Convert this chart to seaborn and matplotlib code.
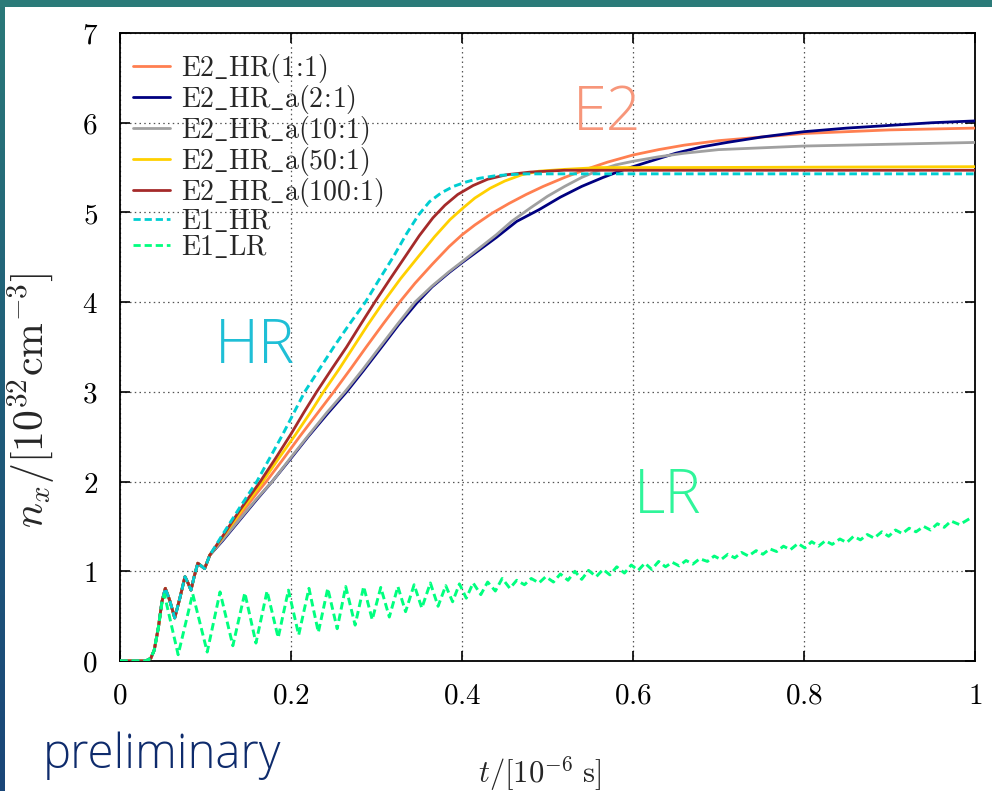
import numpy as np
import pandas as pd
import matplotlib
matplotlib.use("Agg")
import matplotlib.pyplot as plt
import seaborn as sns
from matplotlib.patches import Rectangle
from matplotlib.colors import LinearSegmentedColormap
from matplotlib.ticker import FixedLocator, FixedFormatter

# ---------------- data ----------------
# shared start-up transient of all high-resolution runs
onset_t = [0.0, 0.030, 0.036, 0.040, 0.045, 0.049, 0.053, 0.058, 0.064, 0.070,
           0.076, 0.080, 0.083, 0.087, 0.091, 0.099, 0.105]
onset_n = [0.0, 0.0, 0.03, 0.12, 0.38, 0.66, 0.81, 0.68, 0.48, 0.70,
           0.94, 0.86, 0.79, 0.95, 1.09, 1.03, 1.18]

e2_11_t = [0.12, 0.14, 0.16, 0.171, 0.19, 0.21, 0.23, 0.25, 0.27, 0.288,
           0.308, 0.327, 0.345, 0.365, 0.385, 0.400, 0.415, 0.435, 0.455, 0.475,
           0.495, 0.52, 0.545, 0.57, 0.60, 0.63, 0.66, 0.70, 0.75, 0.80,
           0.85, 0.90, 0.95, 1.00]
e2_11_n = [1.36, 1.62, 1.87, 2.00, 2.24, 2.50, 2.75, 3.00, 3.26, 3.50,
           3.76, 4.00, 4.21, 4.42, 4.62, 4.75, 4.86, 4.99, 5.10, 5.20,
           5.29, 5.39, 5.48, 5.56, 5.64, 5.70, 5.75, 5.80, 5.84, 5.88,
           5.90, 5.92, 5.93, 5.94]

e2_21_t = [0.12, 0.14, 0.16, 0.178, 0.20, 0.22, 0.243, 0.265, 0.285, 0.306,
           0.326, 0.347, 0.365, 0.385, 0.400, 0.42, 0.44, 0.464, 0.49, 0.515,
           0.54, 0.565, 0.59, 0.62, 0.65, 0.68, 0.71, 0.75, 0.80, 0.85,
           0.90, 0.95, 1.00]
e2_21_n = [1.34, 1.57, 1.80, 2.00, 2.26, 2.50, 2.76, 3.00, 3.24, 3.50,
           3.75, 3.99, 4.17, 4.33, 4.44, 4.58, 4.72, 4.90, 5.03, 5.17,
           5.29, 5.39, 5.48, 5.57, 5.66, 5.73, 5.78, 5.84, 5.90, 5.94,
           5.97, 6.00, 6.02]

e2_101_t = [0.12, 0.14, 0.16, 0.178, 0.20, 0.22, 0.242, 0.263, 0.284, 0.304,
            0.325, 0.345, 0.365, 0.385, 0.400, 0.42, 0.44, 0.458, 0.48, 0.50,
            0.52, 0.54, 0.56, 0.58, 0.60, 0.63, 0.66, 0.70, 0.75, 0.80,
            0.90, 1.00]
e2_101_n = [1.35, 1.58, 1.81, 2.00, 2.27, 2.51, 2.77, 3.00, 3.25, 3.50,
            3.76, 4.00, 4.18, 4.34, 4.45, 4.60, 4.75, 4.90, 5.05, 5.18,
            5.29, 5.39, 5.47, 5.53, 5.57, 5.62, 5.66, 5.70, 5.72, 5.74,
            5.76, 5.78]

e2_501_t = [0.12, 0.14, 0.167, 0.185, 0.205, 0.222, 0.238, 0.256, 0.273, 0.29,
            0.308, 0.328, 0.350, 0.368, 0.386, 0.400, 0.415, 0.433, 0.45, 0.47,
            0.49, 0.52, 0.56, 0.65, 1.00]
e2_501_n = [1.38, 1.65, 2.00, 2.25, 2.52, 2.76, 3.00, 3.25, 3.50, 3.75,
            4.00, 4.26, 4.52, 4.73, 4.92, 5.04, 5.16, 5.27, 5.35, 5.42,
            5.46, 5.48, 5.50, 5.50, 5.51]

e2_1001_t = [0.12, 0.14, 0.164, 0.182, 0.200, 0.215, 0.230, 0.248, 0.265, 0.282,
             0.298, 0.316, 0.333, 0.350, 0.366, 0.380, 0.395, 0.413, 0.430, 0.452,
             0.48, 0.52, 1.00]
e2_1001_n = [1.39, 1.68, 2.00, 2.26, 2.53, 2.77, 3.00, 3.26, 3.50, 3.76,
             4.00, 4.26, 4.50, 4.74, 4.94, 5.08, 5.20, 5.30, 5.37, 5.42,
             5.45, 5.47, 5.47]

e1_hr_t = [0.12, 0.14, 0.160, 0.175, 0.190, 0.203, 0.216, 0.233, 0.250, 0.268,
           0.287, 0.303, 0.320, 0.335, 0.349, 0.362, 0.376, 0.390, 0.405, 0.420,
           0.44, 0.47, 1.00]
e1_hr_n = [1.41, 1.71, 2.00, 2.26, 2.52, 2.76, 3.00, 3.25, 3.50, 3.75,
           4.00, 4.25, 4.51, 4.76, 4.97, 5.12, 5.22, 5.29, 5.34, 5.38,
           5.41, 5.43, 5.43]

# low-resolution run: start-up, then oscillation maxima and minima
lr_onset_t = [0.0, 0.030, 0.036, 0.040, 0.045, 0.049]
lr_onset_n = [0.0, 0.0, 0.03, 0.12, 0.38, 0.64]

lr_peak_t = [0.052, 0.085, 0.117, 0.146, 0.172, 0.197, 0.221, 0.243, 0.264, 0.285,
             0.305, 0.325, 0.344, 0.363, 0.381, 0.397, 0.413, 0.430, 0.447, 0.464,
             0.481, 0.498, 0.515, 0.532, 0.548, 0.565, 0.581, 0.598, 0.614, 0.630,
             0.646, 0.662, 0.678, 0.695, 0.711, 0.727, 0.744, 0.760, 0.776, 0.793,
             0.809, 0.825, 0.842, 0.858, 0.874, 0.891, 0.907, 0.923, 0.940, 0.956,
             0.972, 0.996]
lr_peak_n = [0.74, 0.75, 0.77, 0.76, 0.78, 0.79, 0.81, 0.81, 0.83, 0.83,
             0.82, 0.83, 0.85, 0.87, 0.84, 0.86, 0.87, 0.88, 0.92, 0.90,
             0.92, 0.94, 0.97, 1.00, 1.01, 1.02, 1.05, 1.07, 1.09, 1.11,
             1.10, 1.12, 1.14, 1.17, 1.19, 1.21, 1.23, 1.25, 1.28, 1.31,
             1.33, 1.34, 1.36, 1.39, 1.41, 1.44, 1.46, 1.48, 1.50, 1.53,
             1.56, 1.60]
lr_trough_t = [0.068, 0.102, 0.132, 0.159, 0.185, 0.209, 0.232, 0.254, 0.275, 0.295,
               0.315, 0.334, 0.353, 0.372, 0.389, 0.405, 0.422, 0.439, 0.456, 0.473,
               0.490, 0.507, 0.524, 0.540, 0.557, 0.573, 0.590, 0.606, 0.622, 0.638,
               0.654, 0.670, 0.687, 0.703, 0.719, 0.735, 0.752, 0.768, 0.784, 0.801,
               0.817, 0.833, 0.850, 0.866, 0.882, 0.899, 0.915, 0.931, 0.948, 0.964,
               0.982]
lr_trough_n = [0.07, 0.10, 0.17, 0.20, 0.26, 0.29, 0.32, 0.36, 0.40, 0.46,
               0.49, 0.55, 0.59, 0.61, 0.66, 0.70, 0.74, 0.78, 0.81, 0.85,
               0.87, 0.88, 0.90, 0.91, 0.94, 0.96, 0.98, 1.01, 1.02, 1.05,
               1.06, 1.08, 1.11, 1.13, 1.15, 1.17, 1.19, 1.22, 1.24, 1.26,
               1.28, 1.30, 1.32, 1.35, 1.37, 1.39, 1.42, 1.44, 1.46, 1.49,
               1.52]

labels = [r"$\mathrm{E2\_HR(1\!:\!1)}$", r"$\mathrm{E2\_HR\_a(2\!:\!1)}$",
          r"$\mathrm{E2\_HR\_a(10\!:\!1)}$", r"$\mathrm{E2\_HR\_a(50\!:\!1)}$",
          r"$\mathrm{E2\_HR\_a(100\!:\!1)}$", r"$\mathrm{E1\_HR}$", r"$\mathrm{E1\_LR}$"]
colors = ["#ff7f50", "#000080", "#a0a0a0", "#ffd000", "#a52a2a", "#00ced1", "#00ff7f"]

x_ticks = [0, 0.2, 0.4, 0.6, 0.8, 1]
x_ticklabels = ["0", "0.2", "0.4", "0.6", "0.8", "1"]
y_ticks = [0, 1, 2, 3, 4, 5, 6, 7]

# ---------------- assemble tables ----------------
hr_parts = [(e2_11_t, e2_11_n), (e2_21_t, e2_21_n), (e2_101_t, e2_101_n),
            (e2_501_t, e2_501_n), (e2_1001_t, e2_1001_n), (e1_hr_t, e1_hr_n)]
frames = []
for lab, (tt, nn) in zip(labels[:6], hr_parts):
    frames.append(pd.DataFrame({"t": onset_t + tt, "n": onset_n + nn, "run": lab}))
lr_body = sorted(zip(lr_peak_t + lr_trough_t, lr_peak_n + lr_trough_n))
frames.append(pd.DataFrame({"t": lr_onset_t + [p[0] for p in lr_body],
                            "n": lr_onset_n + [p[1] for p in lr_body],
                            "run": labels[6]}))

# ---------------- figure ----------------
sns.set_theme(style="ticks")
plt.rcParams["mathtext.fontset"] = "cm"
plt.rcParams["font.family"] = ["DejaVu Sans"]

W, H = 992, 791
fig = plt.figure(figsize=(W / 100, H / 100), dpi=100)
fig.patch.set_facecolor("white")

# slide frame: teal strip on top, gradient strip on the left
fig.patches.append(Rectangle((0, 1 - 7 / H), 1, 7 / H, transform=fig.transFigure,
                             facecolor="#2b7b79", edgecolor="none", zorder=0))
strip = fig.add_axes([0, 0, 5 / W, 1 - 7 / H])
strip.imshow(np.linspace(0, 1, 256)[:, None], aspect="auto",
             cmap=LinearSegmentedColormap.from_list("frame", ["#2a7878", "#1f5c7a", "#1a4678"]))
strip.axis("off")

ax = fig.add_axes([120 / W, 1 - 661 / H, 855 / W, 628 / H])

for i, df in enumerate(frames):
    sns.lineplot(data=df, x="t", y="n", ax=ax, color=colors[i], label=labels[i],
                 linewidth=2.0 if i < 5 else 2.1, estimator=None, sort=False,
                 zorder=3 + i)
    line = ax.lines[-1]
    line.set_solid_joinstyle("round")
    if i >= 5:
        line.set_dashes((2.6, 1.4))
        line.set_dash_joinstyle("round")

ax.set_xlim(0, 1)
ax.set_ylim(0, 7)
ax.xaxis.set_major_locator(FixedLocator(x_ticks))
ax.xaxis.set_major_formatter(FixedFormatter([f"${s}$" for s in x_ticklabels]))
ax.yaxis.set_major_locator(FixedLocator(y_ticks))
ax.yaxis.set_major_formatter(FixedFormatter([f"${v}$" for v in y_ticks]))
ax.tick_params(direction="in", length=7, width=1.2, top=True, right=True,
               labelsize=21, colors="black")
ax.tick_params(axis="x", pad=15)
ax.tick_params(axis="y", pad=16)
ax.grid(True, color="#555555", linestyle=(0, (1.2, 2.6)), linewidth=0.9)
for s in ax.spines.values():
    s.set_color("black")
    s.set_linewidth(1.3)
    s.set_visible(True)
ax.set_facecolor("white")

ax.set_xlabel(r"$t/[10^{-6}\ \mathrm{s}]$", fontsize=22)
ax.set_ylabel(r"$n_x/[10^{32}\mathrm{cm}^{-3}]$", fontsize=30)
ax.xaxis.set_label_coords(0.491, -0.148)
ax.yaxis.set_label_coords(-0.074, 0.416)

leg = ax.legend(loc="upper left", bbox_to_anchor=(0.015, 0.970), frameon=False,
                fontsize=20, handlelength=1.35, handletextpad=0.38,
                labelspacing=-0.07, borderpad=0, borderaxespad=0)
for h in leg.get_lines():
    h.set_linewidth(2.0)

txt = dict(family=["Open Sans", "DejaVu Sans"], fontweight="light",
           ha="center", va="center", fontsize=44)
ax.text(0.158, 3.50, "HR", color="#1fbfd6", **txt)
ax.text(0.570, 6.09, "E2", color="#f7967a", **txt)
ax.text(0.640, 1.83, "LR", color="#30f59a", **txt)

fig.text(43 / W, 1 - 768 / H, "preliminary", family=["Open Sans", "DejaVu Sans"],
         fontweight="light", fontsize=34, color="#0e2b6c", ha="left", va="baseline")

fig.savefig("out.png", dpi=100, facecolor="white")
